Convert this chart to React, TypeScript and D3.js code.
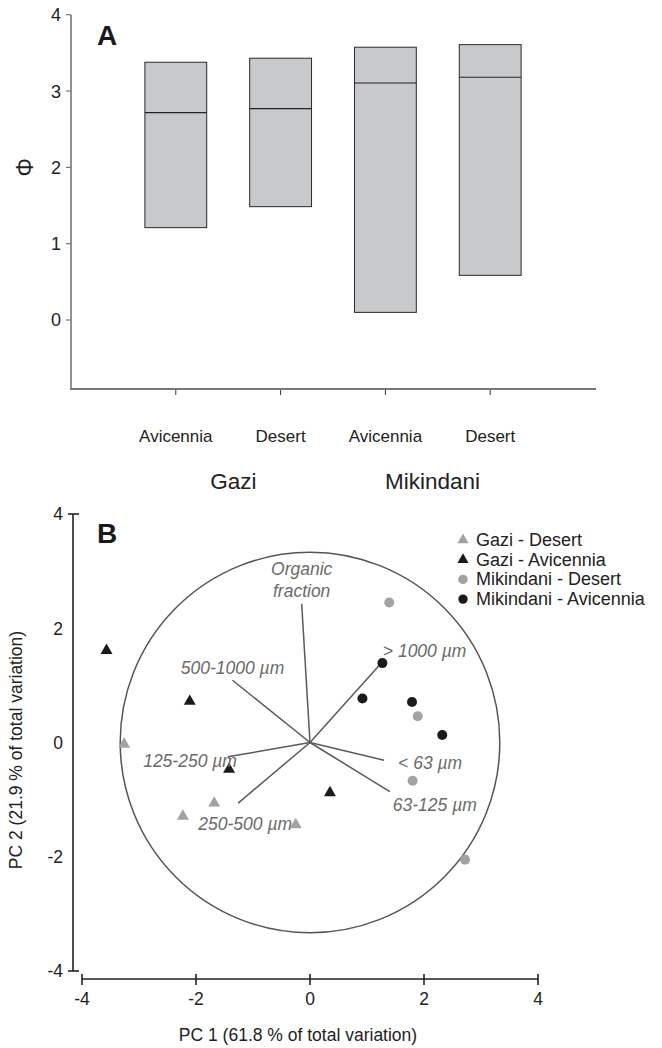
import React from "react";
import * as d3 from "d3";

// ---------- Panel A data ----------
const categoriesA = ["Avicennia", "Desert", "Avicennia", "Desert"];
const sitesA = ["Gazi", "Mikindani"];
const boxLow = [1.21, 1.485, 0.1, 0.585];
const boxMedian = [2.717, 2.77, 3.106, 3.18];
const boxHigh = [3.377, 3.43, 3.574, 3.608];
const yTicksA = [0, 1, 2, 3, 4];

// ---------- Panel B data ----------
const seriesNames = ["Gazi - Desert", "Gazi - Avicennia", "Mikindani - Desert", "Mikindani - Avicennia"];
const gaziDesertX = [-3.26, -2.23, -1.68, -0.25];
const gaziDesertY = [-0.03, -1.29, -1.06, -1.44];
const gaziAvicenniaX = [-3.57, -2.11, -1.42, 0.35];
const gaziAvicenniaY = [1.61, 0.72, -0.47, -0.88];
const mikDesertX = [1.39, 1.89, 1.8, 2.72];
const mikDesertY = [2.45, 0.46, -0.67, -2.05];
const mikAvicenniaX = [1.27, 0.92, 1.79, 2.32];
const mikAvicenniaY = [1.39, 0.77, 0.71, 0.13];

const vectorNames = ["Organic fraction", "500-1000 µm", "125-250 µm", "250-500 µm", "> 1000 µm", "< 63 µm", "63-125 µm"];
const vectorX = [-0.146, -1.36, -1.44, -1.26, 1.26, 1.3, 1.4];
const vectorY = [2.43, 1.09, -0.25, -1.06, 1.4, -0.31, -0.86];
const circleRadiusUnits = 3.33;
const ticksB = [-4, -2, 0, 2, 4];

// ---------- layout/styles ----------
const FONT = "'Liberation Sans', Arial, Helvetica, sans-serif";
const vectorLabelLayout = [
  { dx: 0, dy: -29, anchor: "middle", lines: ["Organic", "fraction"] },
  { dx: 0, dy: -6, anchor: "middle" },
  { dx: 9, dy: 10, anchor: "end" },
  { dx: 7, dy: 27, anchor: "middle" },
  { dx: 1, dy: -6, anchor: "start" },
  { dx: 14, dy: 9, anchor: "start" },
  { dx: 3, dy: 19, anchor: "start" },
];
const seriesStyle = [
  { shape: "triangle", color: "#a2a2a2" },
  { shape: "triangle", color: "#1a1a1a" },
  { shape: "circle", color: "#a2a2a2" },
  { shape: "circle", color: "#1a1a1a" },
];

export default function App() {
  // Panel A scales
  const xA = d3.scaleLinear().domain([0, 5]).range([71, 595]);
  const yA = d3.scaleLinear().domain([-0.9, 4]).range([388.7, 14.7]);
  const boxHalf = 0.295;
  const axisColA = "#777";

  // Panel B scales
  const xB = d3.scaleLinear().domain([-4, 4]).range([82, 538]);
  const yB = d3.scaleLinear().domain([-4, 4]).range([971, 514]);
  const yAxisXB = 73;
  const xAxisYB = 979;
  const triangle = d3.symbol().type(d3.symbolTriangle).size(62);
  const triangleSmall = d3.symbol().type(d3.symbolTriangle).size(54);

  const series = [
    { xs: gaziDesertX, ys: gaziDesertY },
    { xs: gaziAvicenniaX, ys: gaziAvicenniaY },
    { xs: mikDesertX, ys: mikDesertY },
    { xs: mikAvicenniaX, ys: mikAvicenniaY },
  ];

  const marker = (shape: string, color: string, x: number, y: number, key: string, small = false) =>
    shape === "triangle" ? (
      <path key={key} d={(small ? triangleSmall : triangle)() as string} transform={`translate(${x},${y})`} fill={color} />
    ) : (
      <circle key={key} cx={x} cy={y} r={small ? 4.7 : 5} fill={color} />
    );

  const cx = xB(0);
  const cy = yB(0);
  const rx = xB(circleRadiusUnits) - xB(0);
  const ry = yB(0) - yB(circleRadiusUnits);

  return (
    <svg width={662} height={1048} style={{ position: "absolute", left: 0, top: 0, display: "block" }} fontFamily={FONT}>
      <rect width={662} height={1048} fill="#fff" />
      {/* ================= Panel A ================= */}
      <g>
        <line x1={xA(0)} x2={xA(0)} y1={yA(4)} y2={yA(-0.9)} stroke={axisColA} strokeWidth={1.6} />
        <line x1={xA(0) - 1} x2={xA(5) + 1} y1={389} y2={389} stroke={axisColA} strokeWidth={2} />
        {yTicksA.map((t) => (
          <g key={"ya" + t}>
            <line x1={xA(0) - 5} x2={xA(0)} y1={yA(t)} y2={yA(t)} stroke={axisColA} strokeWidth={1.2} />
            <text x={61} y={yA(t)} dy="0.36em" textAnchor="end" fontSize={18} fill="#222">{t}</text>
          </g>
        ))}
        <text transform={`translate(25,${yA(2)}) rotate(-90)`} textAnchor="middle" dy="0.36em" fontSize={23} fill="#222">Φ</text>
        <text x={97} y={45} fontSize={28} fontWeight="bold" fill="#1a1a1a">A</text>
        {categoriesA.map((c, i) => {
          const pos = i + 1;
          return (
            <g key={"ca" + i}>
              <line x1={xA(pos)} x2={xA(pos)} y1={390} y2={395} stroke="#333" strokeWidth={1} />
              <text x={xA(pos)} y={442} textAnchor="middle" fontSize={17} fill="#222">{c}</text>
              <rect
                x={xA(pos - boxHalf)}
                y={yA(boxHigh[i])}
                width={xA(pos + boxHalf) - xA(pos - boxHalf)}
                height={yA(boxLow[i]) - yA(boxHigh[i])}
                fill="#c8c9cb"
                stroke="#2a2a2a"
                strokeWidth={1}
              />
              <line x1={xA(pos - boxHalf)} x2={xA(pos + boxHalf)} y1={yA(boxMedian[i])} y2={yA(boxMedian[i])} stroke="#222" strokeWidth={1.1} />
            </g>
          );
        })}
        {sitesA.map((s, i) => (
          <text key={s} x={xA(i === 0 ? 1.55 : 3.45)} y={489} textAnchor="middle" fontSize={22.5} fill="#222">{s}</text>
        ))}
      </g>

      {/* ================= Panel B ================= */}
      <g>
        {/* y axis */}
        <line x1={yAxisXB} x2={yAxisXB} y1={yB(4)} y2={yB(-4)} stroke="#222" strokeWidth={1.6} />
        <line x1={yAxisXB - 5} x2={yAxisXB + 6} y1={yB(4)} y2={yB(4)} stroke="#222" strokeWidth={1.6} />
        <line x1={yAxisXB - 5} x2={yAxisXB + 6} y1={yB(-4)} y2={yB(-4)} stroke="#222" strokeWidth={1.6} />
        {ticksB.map((t) => (
          <text key={"yb" + t} x={63} y={yB(t)} dy="0.36em" textAnchor="end" fontSize={17.5} fill="#222">{t}</text>
        ))}
        {/* x axis */}
        <line x1={xB(-4)} x2={xB(4)} y1={xAxisYB} y2={xAxisYB} stroke="#222" strokeWidth={1.6} />
        {ticksB.map((t) => (
          <g key={"xb" + t}>
            <line x1={xB(t)} x2={xB(t)} y1={xAxisYB - 5} y2={xAxisYB + 6} stroke="#222" strokeWidth={1.6} />
            <text x={xB(t)} y={1005} textAnchor="middle" fontSize={17.5} fill="#222">{t}</text>
          </g>
        ))}
        <text x={298} y={1041} textAnchor="middle" fontSize={17.5} fill="#222">PC 1 (61.8 % of total variation)</text>
        <text transform={`translate(22,750) rotate(-90)`} textAnchor="middle" fontSize={17.5} fill="#222">PC 2 (21.9 % of total variation)</text>
        <text x={97} y={543} fontSize={28} fontWeight="bold" fill="#1a1a1a">B</text>

        {/* circle */}
        <ellipse cx={cx} cy={cy} rx={rx} ry={ry} fill="none" stroke="#555" strokeWidth={1.5} />

        {/* vectors */}
        {vectorNames.map((n, i) => (
          <line key={"v" + i} x1={cx} y1={cy} x2={xB(vectorX[i])} y2={yB(vectorY[i])} stroke="#5a5a5a" strokeWidth={1.5} />
        ))}

        {/* points */}
        {series.map((s, si) =>
          s.xs.map((x, i) => marker(seriesStyle[si].shape, seriesStyle[si].color, xB(x), yB(s.ys[i]), `p${si}-${i}`))
        )}

        {/* vector labels */}
        {vectorNames.map((n, i) => {
          const L = vectorLabelLayout[i];
          const x = xB(vectorX[i]) + L.dx;
          const y = yB(vectorY[i]) + L.dy;
          return (
            <text key={"vl" + i} x={x} y={y} textAnchor={L.anchor as any} fontSize={17.5} fontStyle="italic" fill="#6b6b6b">
              {L.lines
                ? L.lines.map((ln, k) => (
                    <tspan key={k} x={x} dy={k === 0 ? 0 : 22}>{ln}</tspan>
                  ))
                : n}
            </text>
          );
        })}

        {/* legend */}
        {seriesNames.map((n, i) => (
          <g key={"lg" + i}>
            {marker(seriesStyle[i].shape, seriesStyle[i].color, 463, 540 + i * 19.7, "lm" + i, true)}
            <text x={476} y={546 + i * 19.7} fontSize={18} fill="#222">{n}</text>
          </g>
        ))}
      </g>
    </svg>
  );
}
